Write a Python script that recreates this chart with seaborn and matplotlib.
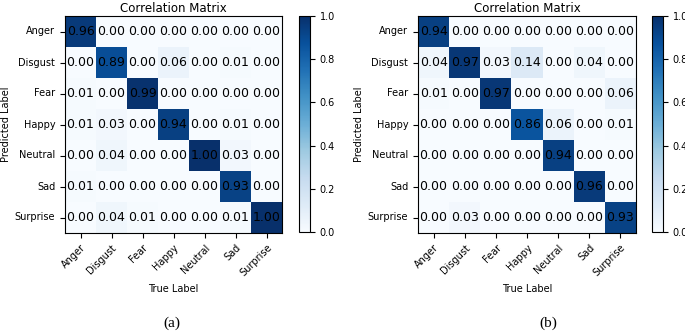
import matplotlib
matplotlib.use("Agg")
import matplotlib.pyplot as plt
import numpy as np
import seaborn as sns

# class labels shared by both matrices
labels = ["Anger", "Disgust", "Fear", "Happy", "Neutral", "Sad", "Surprise"]

# (a) rows = predicted, columns = true
matrix_a = [
    [0.96, 0.00, 0.00, 0.00, 0.00, 0.00, 0.00],
    [0.00, 0.89, 0.00, 0.06, 0.00, 0.01, 0.00],
    [0.01, 0.00, 0.99, 0.00, 0.00, 0.00, 0.00],
    [0.01, 0.03, 0.00, 0.94, 0.00, 0.01, 0.00],
    [0.00, 0.04, 0.00, 0.00, 1.00, 0.03, 0.00],
    [0.01, 0.00, 0.00, 0.00, 0.00, 0.93, 0.00],
    [0.00, 0.04, 0.01, 0.00, 0.00, 0.01, 1.00],
]

# (b)
matrix_b = [
    [0.94, 0.00, 0.00, 0.00, 0.00, 0.00, 0.00],
    [0.04, 0.97, 0.03, 0.14, 0.00, 0.04, 0.00],
    [0.01, 0.00, 0.97, 0.00, 0.00, 0.00, 0.06],
    [0.00, 0.00, 0.00, 0.86, 0.06, 0.00, 0.01],
    [0.00, 0.00, 0.00, 0.00, 0.94, 0.00, 0.00],
    [0.00, 0.00, 0.00, 0.00, 0.00, 0.96, 0.00],
    [0.00, 0.03, 0.00, 0.00, 0.00, 0.00, 0.93],
]

captions = ["(a)", "(b)"]

W, H = 685, 332


def box(x0, y0, x1, y1):
    # pixel box -> figure fraction rect
    return [x0 / W, 1 - y1 / H, (x1 - x0) / W, (y1 - y0) / H]


def draw(fig, data, heat_box, cbar_box, caption, cap_x):
    ax = fig.add_axes(box(*heat_box))
    cax = fig.add_axes(box(*cbar_box))
    sns.heatmap(
        np.array(data),
        ax=ax,
        cbar_ax=cax,
        cmap="Blues",
        vmin=0,
        vmax=1,
        annot=True,
        fmt=".2f",
        annot_kws={"color": "black", "fontsize": 9},
        xticklabels=labels,
        yticklabels=labels,
        square=False,
    )
    for s in ax.spines.values():
        s.set_visible(True)
        s.set_linewidth(0.8)
    ax.tick_params(axis="both", length=3.5, width=0.8, labelsize=7)
    ax.set_xticklabels(labels, rotation=45, ha="right", rotation_mode="anchor")
    ax.set_yticklabels(labels, rotation=0)
    ax.set_title("Correlation Matrix", fontsize=8.5, pad=3)
    ax.set_xlabel("True Label", fontsize=7, labelpad=4)
    ax.set_ylabel("Predicted Label", fontsize=7, labelpad=3)

    cb = ax.collections[0].colorbar
    cb.outline.set_visible(True)
    cb.outline.set_linewidth(0.8)
    cb.outline.set_edgecolor("black")
    cb.set_ticks([0.0, 0.2, 0.4, 0.6, 0.8, 1.0])
    cb.ax.yaxis.set_major_formatter(lambda v, pos: f"{v:.1f}")
    cax.tick_params(labelsize=7, length=3.5, width=0.8)

    fig.text(cap_x / W, 1 - 323 / H, caption, ha="center", va="center",
             fontsize=11, family="Liberation Serif")


fig = plt.figure(figsize=(W / 100, H / 100), dpi=100)
fig.patch.set_facecolor("white")

draw(fig, matrix_a, (65, 16, 282, 233), (299, 16, 310, 232), captions[0], 172)
draw(fig, matrix_b, (418, 16, 636, 233), (652, 16, 663, 232), captions[1], 548)

fig.savefig("out.png", dpi=100)
